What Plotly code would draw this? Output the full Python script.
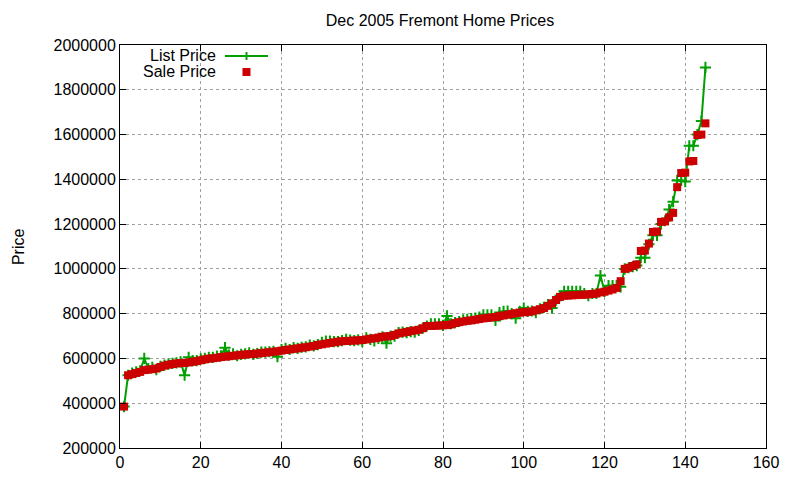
import plotly.graph_objects as go

index = list(range(1, 146))

sale_price = [
    385000, 525000, 530000, 535000, 540000, 548000, 550000, 552000, 555000, 562000,
    568000, 572000, 575000, 578000, 579000, 580000, 582000, 585000, 588000, 592000,
    596000, 599000, 601000, 603000, 606000, 608000, 610000, 612000, 614000, 616000,
    618000, 619000, 620000, 622000, 624000, 626000, 628000, 630000, 632000, 635000,
    638000, 640000, 643000, 645000, 648000, 650000, 653000, 656000, 660000, 663000,
    666000, 669000, 672000, 675000, 677000, 678000, 679000, 680000, 681000, 682000,
    685000, 688000, 690000, 693000, 697000, 699000, 700000, 705000, 712000, 715000,
    718000, 722000, 725000, 728000, 735000, 745000, 745000, 746000, 747000, 748000,
    749000, 752000, 758000, 762000, 765000, 768000, 770000, 773000, 776000, 779000,
    781000, 783000, 785000, 789000, 792000, 795000, 799000, 802000, 805000, 806000,
    808000, 810000, 815000, 820000, 825000, 835000, 846000, 861000, 875000, 880000,
    881000, 882000, 883000, 884000, 885000, 886000, 888000, 890000, 895000, 898000,
    903000, 908000, 915000, 945000, 1000000, 1005000, 1013000, 1020000, 1080000, 1082000,
    1113000, 1165000, 1167000, 1210000, 1212000, 1230000, 1250000, 1365000, 1428000, 1430000,
    1480000, 1482000, 1598000, 1600000, 1650000,
]

list_price = [
    385000, 525000, 535000, 540000, 545000, 600000, 555000, 560000, 550000, 565000,
    570000, 575000, 578000, 580000, 585000, 525000, 605000, 590000, 590000, 598000,
    600000, 605000, 605000, 610000, 612000, 648000, 615000, 620000, 612000, 618000,
    620000, 625000, 618000, 622000, 628000, 628000, 630000, 632000, 608000, 640000,
    645000, 640000, 648000, 645000, 650000, 652000, 660000, 656000, 662000, 672000,
    678000, 678000, 675000, 675000, 680000, 685000, 682000, 680000, 683000, 675000,
    692000, 685000, 678000, 690000, 697000, 668000, 700000, 700000, 715000, 718000,
    715000, 720000, 718000, 725000, 735000, 745000, 755000, 755000, 755000, 748000,
    790000, 755000, 760000, 765000, 772000, 775000, 778000, 780000, 785000, 795000,
    795000, 795000, 770000, 805000, 810000, 812000, 800000, 780000, 810000, 825000,
    810000, 812000, 805000, 822000, 828000, 840000, 825000, 860000, 880000, 900000,
    900000, 900000, 900000, 900000, 890000, 880000, 890000, 890000, 970000, 900000,
    925000, 925000, 925000, 920000, 1000000, 1005000, 1010000, 1015000, 1050000, 1050000,
    1110000, 1150000, 1150000, 1200000, 1215000, 1265000, 1300000, 1395000, 1395000, 1390000,
    1550000, 1550000, 1600000, 1660000, 1900000,
]

x_ticks = [0, 20, 40, 60, 80, 100, 120, 140, 160]
y_ticks = [200000, 400000, 600000, 800000, 1000000, 1200000, 1400000,
           1600000, 1800000, 2000000]
y_tick_labels = [str(v) for v in y_ticks]

GREEN = "#00a000"
RED = "#cc0000"
FONT = "Liberation Sans, Arial, sans-serif"
FS = 16

fig = go.Figure()
fig.add_trace(go.Scatter(
    x=index, y=list_price, mode="lines+markers", name="List Price",
    line=dict(color=GREEN, width=2),
    marker=dict(symbol="cross-thin", size=8, color=GREEN,
                line=dict(color=GREEN, width=2)),
    showlegend=False,
))
fig.add_trace(go.Scatter(
    x=index, y=sale_price, mode="markers", name="Sale Price",
    marker=dict(symbol="square", size=8, color=RED, line=dict(width=0)),
    showlegend=False,
))

axis_common = dict(
    showline=True, linecolor="black", linewidth=1, mirror="allticks",
    ticks="inside", ticklen=6, tickcolor="black",
    showgrid=True, gridcolor="#a0a0a0", griddash="dot", gridwidth=1,
    zeroline=False, automargin=False,
    tickfont=dict(family=FONT, size=FS, color="black"),
)

fig.update_layout(
    width=800, height=480,
    paper_bgcolor="white", plot_bgcolor="white",
    margin=dict(l=112, r=42, t=37, b=40),
    title=dict(text="Dec 2005 Fremont Home Prices", x=0.54, xanchor="center",
               y=0.975, yanchor="middle",
               font=dict(family=FONT, size=FS, color="black")),
    xaxis=dict(range=[0, 160], tickvals=x_ticks, **axis_common),
    yaxis=dict(range=[200000, 2000000], tickvals=y_ticks,
               ticktext=y_tick_labels, **axis_common),
    font=dict(family=FONT, size=FS, color="black"),
)

# y axis label
fig.add_annotation(xref="paper", yref="paper", x=-0.157, y=0.5,
                   text="Price", showarrow=False, textangle=-90,
                   xanchor="center", yanchor="middle",
                   font=dict(family=FONT, size=FS))

# manual gnuplot-style key (text right-aligned, sample to its right)
fig.add_annotation(xref="paper", yref="paper", x=0.152, y=0.974,
                   text="List Price", showarrow=False, xanchor="right",
                   yanchor="middle", font=dict(family=FONT, size=FS))
fig.add_annotation(xref="paper", yref="paper", x=0.152, y=0.934,
                   text="Sale Price", showarrow=False, xanchor="right",
                   yanchor="middle", font=dict(family=FONT, size=FS))
fig.add_shape(type="line", xref="paper", yref="paper",
              x0=0.1625, x1=0.229, y0=0.9727, y1=0.9727,
              line=dict(color=GREEN, width=2))
fig.add_shape(type="line", xref="paper", yref="paper",
              x0=0.1958, x1=0.1958, y0=0.9628, y1=0.9826,
              line=dict(color=GREEN, width=2))
fig.add_shape(type="rect", xref="paper", yref="paper",
              x0=0.1896, x1=0.2020, y0=0.9231, y1=0.9429,
              line=dict(width=0), fillcolor=RED)

fig.write_html("out.html")
